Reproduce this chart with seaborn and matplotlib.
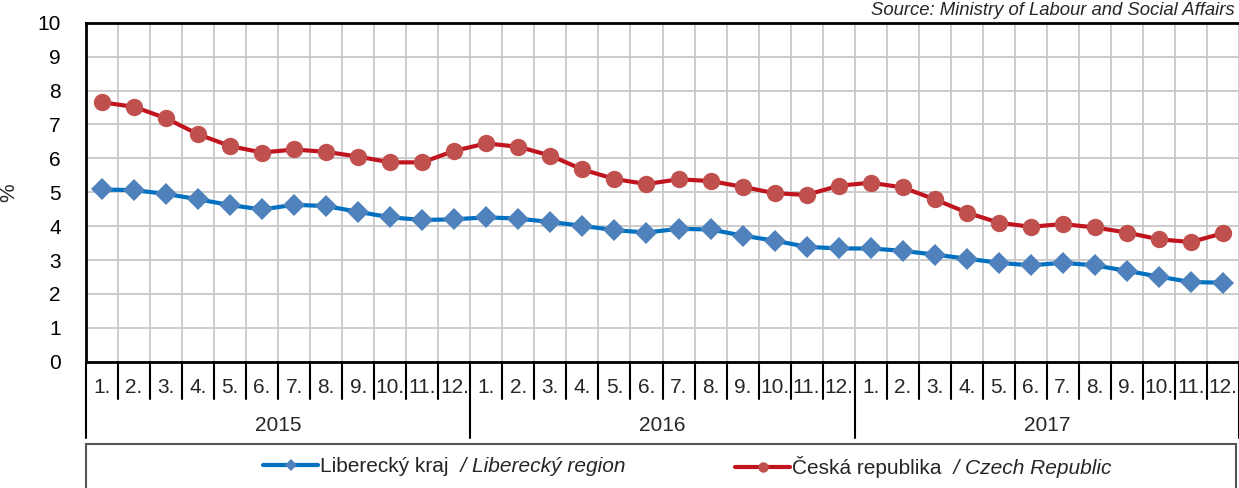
import matplotlib
matplotlib.use("Agg")
import matplotlib.pyplot as plt
import matplotlib.transforms as mtransforms
from matplotlib.patches import Rectangle
import pandas as pd
import seaborn as sns

years = ["2015", "2016", "2017"]
months = ["1.", "2.", "3.", "4.", "5.", "6.", "7.", "8.", "9.", "10.", "11.", "12."]

# podil nezamestnanych osob (%)
liberec = [5.08, 5.06, 4.95, 4.79, 4.62, 4.49, 4.63, 4.59, 4.42, 4.26, 4.18, 4.20,
           4.26, 4.22, 4.12, 4.01, 3.88, 3.81, 3.92, 3.90, 3.72, 3.57, 3.39, 3.34,
           3.34, 3.27, 3.16, 3.04, 2.92, 2.84, 2.92, 2.84, 2.68, 2.51, 2.35, 2.33]
czech = [7.65, 7.52, 7.18, 6.71, 6.36, 6.17, 6.26, 6.19, 6.05, 5.88, 5.88, 6.22,
         6.44, 6.34, 6.08, 5.67, 5.39, 5.24, 5.38, 5.33, 5.16, 4.97, 4.92, 5.19,
         5.28, 5.14, 4.79, 4.40, 4.10, 3.98, 4.06, 3.96, 3.81, 3.61, 3.53, 3.79]

sns.set_style("white")
plt.rcParams["font.family"] = ["Liberation Sans", "DejaVu Sans"]
FS = 15

df = pd.DataFrame({
    "idx": range(len(liberec)),
    "month": months * len(years),
    "year": [y for y in years for _ in months],
    "liberec": liberec,
    "czech": czech,
})

W, H = 1239, 488
fig = plt.figure(figsize=(W / 100, H / 100), dpi=100)
ax = fig.add_axes([86 / W, 1 - 361.7 / H, 1153 / W, 339 / H])

sns.lineplot(data=df, x="idx", y="liberec", ax=ax, color="#0070C0", lw=3,
             marker="D", markersize=11, markerfacecolor="#4F81BD",
             markeredgewidth=0, zorder=3)
lib_line = ax.lines[-1]
sns.lineplot(data=df, x="idx", y="czech", ax=ax, color="#C0141E", lw=3,
             marker="o", markersize=12.5, markerfacecolor="#C0504D",
             markeredgewidth=0, zorder=3)
cz_line = ax.lines[-1]

n = len(df)
ax.set_xlim(-0.5, n - 0.5)
ax.set_ylim(0, 10)
ax.set_yticks(range(11))
ax.set_xticks([k - 0.5 for k in range(n + 1)])
ax.set_xticklabels([])
ax.grid(True, color="#C8C8C8", lw=1.3)
ax.set_axisbelow(True)
ax.set_xlabel("")
ax.set_ylabel("%", fontsize=FS)
ax.yaxis.set_label_coords((18 - 86) / 1153, 0.5)

for side in ["left", "bottom", "top"]:
    ax.spines[side].set_color("black")
    ax.spines[side].set_linewidth(2)
ax.spines["right"].set_visible(False)
ax.tick_params(axis="y", length=7, width=1.5, pad=11, labelsize=FS, colors="black")
ax.tick_params(axis="x", length=0)

# dvouradkova kategorialni osa (mesice / roky)
trans = mtransforms.blended_transform_factory(ax.transData, ax.transAxes)
for i, m in enumerate(df["month"]):
    ax.text(i, -0.075, m, transform=trans, ha="center", va="center", fontsize=FS)
for k in range(n + 1):
    y_end = -0.225 if k % 12 == 0 else -0.11
    ax.plot([k - 0.5, k - 0.5], [0, y_end], transform=trans, color="black",
            lw=1.5, clip_on=False)
for j, y in enumerate(years):
    ax.text(j * 12 + 5.5, -0.188, y, transform=trans, ha="center", va="center",
            fontsize=FS)

fig.text(1235 / W, 1 - 15 / H, "Source: Ministry of Labour and Social Affairs",
         ha="right", va="baseline", style="italic", fontsize=13.3)

# legenda
fig.add_artist(Rectangle((86 / W, -0.02), 1150 / W, 0.0902 + 0.02,
                         transform=fig.transFigure, fill=False,
                         edgecolor="#555555", lw=1.5))
leg_kw = dict(loc="center left", bbox_transform=fig.transFigure, frameon=False,
              borderpad=0, borderaxespad=0, handlelength=2.65, handletextpad=0.1,
              markerscale=0.6, fontsize=FS)
leg1 = ax.legend([lib_line], ["Liberecký kraj"],
                 bbox_to_anchor=(263 / W, 1 - 467 / H), **leg_kw)
ax.add_artist(leg1)
leg2 = ax.legend([cz_line], ["Česká republika"],
                 bbox_to_anchor=(735 / W, 1 - 467 / H), **leg_kw)
ax.annotate("  / Liberecký region", xy=(1, 0), xycoords=leg1.get_texts()[0],
            ha="left", va="bottom", style="italic", fontsize=FS,
            annotation_clip=False, zorder=10)
ax.annotate("  / Czech Republic", xy=(1, 0), xycoords=leg2.get_texts()[0],
            ha="left", va="bottom", style="italic", fontsize=FS,
            annotation_clip=False, zorder=10)

fig.savefig("out.png", dpi=100)
